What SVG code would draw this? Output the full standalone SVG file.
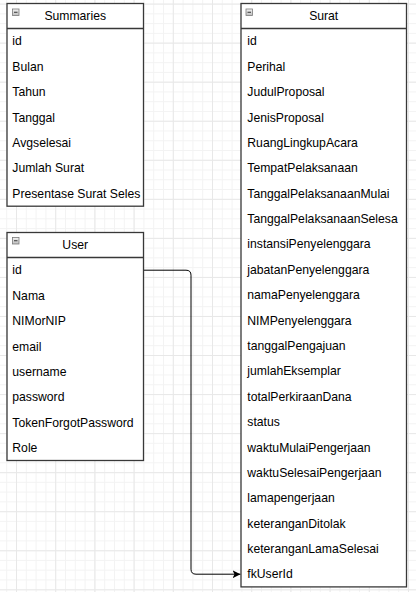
<svg xmlns="http://www.w3.org/2000/svg" width="416" height="592" viewBox="0 0 416 592">
<defs>
<pattern id="minor" patternUnits="userSpaceOnUse" x="6.2" y="3.6" width="9.8" height="9.76">
<path d="M0,0.5 H9.8 M0.5,0 V9.76" fill="none" stroke="#f3f3f3" stroke-width="1"/>
</pattern>
<pattern id="major" patternUnits="userSpaceOnUse" x="16" y="3.6" width="39.2" height="39.05">
<path d="M0,0.5 H39.2 M0.5,0 V39.05" fill="none" stroke="#e8e8e8" stroke-width="1"/>
</pattern>
<linearGradient id="ig" x1="0" y1="0" x2="0" y2="1">
<stop offset="0" stop-color="#f4f4f4"/>
<stop offset="1" stop-color="#bdbdbd"/>
</linearGradient>
<marker id="arrow" markerUnits="userSpaceOnUse" markerWidth="10" markerHeight="10" refX="8" refY="4" orient="auto">
<path d="M0,0 L8,4 L0,8 L2,4 z" fill="#000"/>
</marker>
<clipPath id="cs"><rect x="7" y="28.5" width="136.5" height="178"/></clipPath>
<clipPath id="cu"><rect x="7" y="257.5" width="136.5" height="203"/></clipPath>
<clipPath id="cr"><rect x="241" y="28.5" width="165.5" height="558.5"/></clipPath>
</defs>
<style>
.box{fill:#ffffff;stroke:#383838;stroke-width:1.3}
.sep{stroke:#383838;stroke-width:1.3}
.t{font-family:"Liberation Sans",Arial,sans-serif;font-size:12.2px;fill:#000}
.h{font-family:"Liberation Sans",Arial,sans-serif;font-size:12.2px;fill:#000;text-anchor:middle}
.ic{fill:url(#ig);stroke:#7a7a7a;stroke-width:0.8}
.im{stroke:#333;stroke-width:1}
.edge{fill:none;stroke:#000;stroke-width:1}
</style>
<rect width="416" height="592" fill="#ffffff"/>
<rect width="416" height="592" fill="url(#minor)"/>
<rect width="416" height="592" fill="url(#major)"/>

<g id="connectors">
<path class="edge" d="M143.5,270.2 H186 Q191,270.2 191,275.2 V569.2 Q191,574.2 196,574.2 H240.5" marker-end="url(#arrow)"/>
</g>

<g id="summaries">
<rect class="box" x="7" y="3.5" width="136.5" height="202.7"/>
<line class="sep" x1="7" y1="28.5" x2="143.5" y2="28.5"/>
<rect class="ic" x="12.5" y="9" width="6.5" height="6.5"/>
<line class="im" x1="14" y1="12.25" x2="17.5" y2="12.25"/>
<text class="h" x="75.2" y="20.2">Summaries</text>
<g clip-path="url(#cs)">
<text class="t" x="12.3" y="45.4">id</text>
<text class="t" x="12.3" y="70.8">Bulan</text>
<text class="t" x="12.3" y="96.2">Tahun</text>
<text class="t" x="12.3" y="121.5">Tanggal</text>
<text class="t" x="12.3" y="146.9">Avgselesai</text>
<text class="t" x="12.3" y="172.3">Jumlah Surat</text>
<text class="t" x="12.3" y="197.7">Presentase Surat Seles</text>
</g>
</g>

<g id="user">
<rect class="box" x="7" y="232.5" width="136.5" height="228"/>
<line class="sep" x1="7" y1="257.5" x2="143.5" y2="257.5"/>
<rect class="ic" x="12.5" y="237.5" width="6.5" height="6.5"/>
<line class="im" x1="14" y1="240.75" x2="17.5" y2="240.75"/>
<text class="h" x="75.2" y="249.2">User</text>
<g clip-path="url(#cu)">
<text class="t" x="12.3" y="274.4">id</text>
<text class="t" x="12.3" y="299.8">Nama</text>
<text class="t" x="12.3" y="325.2">NIMorNIP</text>
<text class="t" x="12.3" y="350.5">email</text>
<text class="t" x="12.3" y="375.9">username</text>
<text class="t" x="12.3" y="401.3">password</text>
<text class="t" x="12.3" y="426.7">TokenForgotPassword</text>
<text class="t" x="12.3" y="452.1">Role</text>
</g>
</g>

<g id="surat">
<rect class="box" x="241" y="3.5" width="165.5" height="583.4"/>
<line class="sep" x1="241" y1="28.5" x2="406.5" y2="28.5"/>
<rect class="ic" x="246" y="9" width="6.5" height="6.5"/>
<line class="im" x1="247.5" y1="12.25" x2="251" y2="12.25"/>
<text class="h" x="323.7" y="20.2">Surat</text>
<g clip-path="url(#cr)">
<text class="t" x="247.3" y="45.4">id</text>
<text class="t" x="247.3" y="70.8">Perihal</text>
<text class="t" x="247.3" y="96.2">JudulProposal</text>
<text class="t" x="247.3" y="121.5">JenisProposal</text>
<text class="t" x="247.3" y="146.9">RuangLingkupAcara</text>
<text class="t" x="247.3" y="172.3">TempatPelaksanaan</text>
<text class="t" x="247.3" y="197.7">TanggalPelaksanaanMulai</text>
<text class="t" x="247.3" y="223.1">TanggalPelaksanaanSelesa</text>
<text class="t" x="247.3" y="248.4">instansiPenyelenggara</text>
<text class="t" x="247.3" y="273.8">jabatanPenyelenggara</text>
<text class="t" x="247.3" y="299.2">namaPenyelenggara</text>
<text class="t" x="247.3" y="324.6">NIMPenyelenggara</text>
<text class="t" x="247.3" y="350">tanggalPengajuan</text>
<text class="t" x="247.3" y="375.3">jumlahEksemplar</text>
<text class="t" x="247.3" y="400.7">totalPerkiraanDana</text>
<text class="t" x="247.3" y="426.1">status</text>
<text class="t" x="247.3" y="451.5">waktuMulaiPengerjaan</text>
<text class="t" x="247.3" y="476.9">waktuSelesaiPengerjaan</text>
<text class="t" x="247.3" y="502.2">lamapengerjaan</text>
<text class="t" x="247.3" y="527.6">keteranganDitolak</text>
<text class="t" x="247.3" y="553">keteranganLamaSelesai</text>
<text class="t" x="247.3" y="578.4">fkUserId</text>
</g>
</g>
</svg>
